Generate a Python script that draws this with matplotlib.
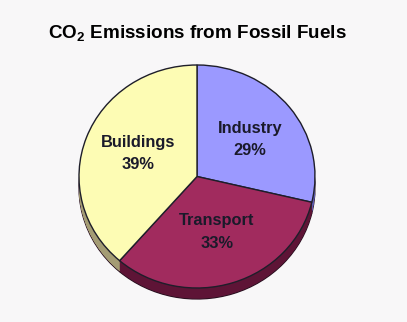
import matplotlib
matplotlib.use("Agg")
import matplotlib.pyplot as plt
import numpy as np

categories = ["Industry", "Transport", "Buildings"]
values = [29, 33, 39]
pct_labels = ["29%", "33%", "39%"]
top_colors = ["#9B99FF", "#A12B5E", "#FDFCB4"]
side_colors = ["#5E5CB0", "#5E1436", "#A49C74"]

W, H = 407, 322
cx, cy = 197, 176.5
rx, ry = 118, 111.5
depth = 11

fig = plt.figure(figsize=(W / 100, H / 100), dpi=100)
fig.patch.set_facecolor("#F8F7F8")
ax = fig.add_axes([0, 0, 1, 1])
ax.set_facecolor("#F8F7F8")

# side (depth) layers
d_data = depth / ry
steps = 24
for k in range(steps, 0, -1):
    off = d_data * k / steps
    ax.pie(values, colors=side_colors, startangle=90, counterclock=False,
           center=(0, -off), radius=1,
           wedgeprops=dict(linewidth=0.9 if k == steps else 0,
                           edgecolor="#2a1020" if k == steps else "none"))
# top face
ax.pie(values, colors=top_colors, startangle=90, counterclock=False,
       center=(0, 0), radius=1,
       wedgeprops=dict(linewidth=1.0, edgecolor="#1E1E2A"))

ax.set_xlim((0 - cx) / rx, (W - cx) / rx)
ax.set_ylim((cy - H) / ry, (cy - 0) / ry)
ax.set_aspect("auto")
ax.axis("off")

# labels placed in slices
label_pos = {"Industry": (250, 128), "Transport": (217, 221), "Buildings": (138, 142)}
for cat, pct in zip(categories, pct_labels):
    px, py = label_pos[cat]
    fig.text(px / W, 1 - py / H, cat, ha="center", va="center",
             fontsize=11.8, fontweight="bold", family="Liberation Sans", color="#1A1A2A")
    fig.text(px / W, 1 - (py + 22.5) / H, pct, ha="center", va="center",
             fontsize=11.8, fontweight="bold", family="Liberation Sans", color="#1A1A2A")

fig.text(197 / W, 1 - 34 / H, r"CO$_\mathregular{2}$ Emissions from Fossil Fuels",
         ha="center", va="center", fontsize=13.6, fontweight="bold",
         family="Liberation Sans", color="#000000")

fig.savefig("out.png", dpi=100, facecolor=fig.get_facecolor())
